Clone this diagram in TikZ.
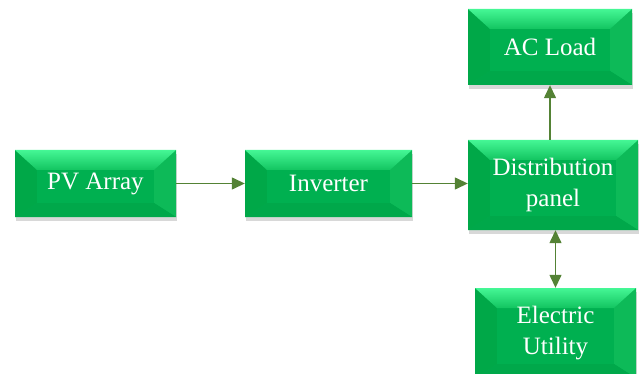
\documentclass[tikz,border=0pt]{standalone}
\usepackage{fontspec}
\newfontfamily\boxface{Liberation Serif}
\usetikzlibrary{arrows.meta,shadows}
\definecolor{facebase}{HTML}{00B050}
\definecolor{facetop}{HTML}{45F795}
\definecolor{facetopin}{HTML}{12C460}
\definecolor{faceleft}{HTML}{00A848}
\definecolor{faceright}{HTML}{0DBA58}
\definecolor{facebottom}{HTML}{00A84A}
\definecolor{linkgreen}{HTML}{548235}
\tikzset{
  bevelbox/.style={
    minimum width=#1, inner sep=0pt, align=center,
    text=white, font=\boxface\fontsize{25}{31}\selectfont,
    fill=facebase,
    drop shadow={shadow xshift=1pt, shadow yshift=-4pt, opacity=0.22, fill=black!70},
    path picture={
      \coordinate (nw) at (path picture bounding box.north west);
      \coordinate (ne) at (path picture bounding box.north east);
      \coordinate (sw) at (path picture bounding box.south west);
      \coordinate (se) at (path picture bounding box.south east);
      \coordinate (inw) at ([xshift=22pt,yshift=-20pt]nw);
      \coordinate (ine) at ([xshift=-22pt,yshift=-20pt]ne);
      \coordinate (isw) at ([xshift=22pt,yshift=14pt]sw);
      \coordinate (ise) at ([xshift=-22pt,yshift=14pt]se);
      \fill[faceleft] (nw) -- (inw) -- (isw) -- (sw) -- cycle;
      \fill[faceright] (ne) -- (ine) -- (ise) -- (se) -- cycle;
      \fill[facebottom] (sw) -- (isw) -- (ise) -- (se) -- cycle;
      \fill[facebase] (inw) -- (ine) -- (ise) -- (isw) -- cycle;
      \shade[top color=facetop, bottom color=facetopin] (nw) -- (ne) -- (ine) -- (inw) -- cycle;
    }
  },
  link/.style={draw=linkgreen, line width=1.4pt,
    -{Triangle[length=13pt,width=12pt]}},
  duallink/.style={draw=linkgreen, line width=1.4pt,
    {Triangle[length=13pt,width=12pt]}-{Triangle[length=13pt,width=12pt]}}
}
\begin{document}
\begin{tikzpicture}[x=1pt,y=-1pt]
  \useasboundingbox (0,0) rectangle (639,374);
  \clip (0,0) rectangle (639,374);

  \node[bevelbox=161pt, minimum height=67pt] (pv)   at (95.5,183.5) {PV Array};
  \node[bevelbox=167pt, minimum height=67pt] (inv)  at (328.5,183.5) {Inverter};
  \node[bevelbox=170pt, minimum height=90pt] (dist) at (553,185) {Distribution\\panel};
  \node[bevelbox=164pt, minimum height=76pt] (ac)   at (550,47) {AC Load};
  \node[bevelbox=161pt, minimum height=90pt] (util) at (555.5,333) {Electric\\Utility};

  \draw[link] (pv) -- (inv);
  \draw[link] (inv.east) -- (inv.east -| dist.west);
  \draw[link] (ac.south |- dist.north) -- (ac.south);
  \draw[duallink] (util.north |- dist.south) -- (util.north);
\end{tikzpicture}
\end{document}
